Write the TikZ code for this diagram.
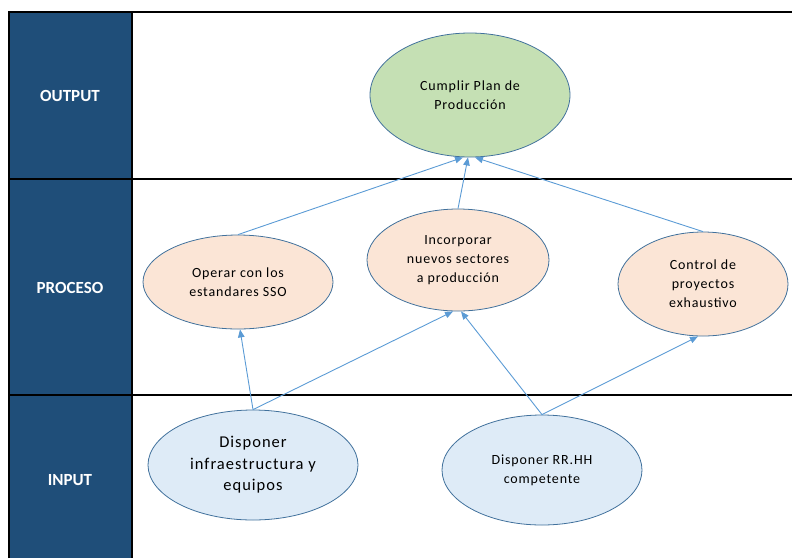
\documentclass[tikz,border=0pt]{standalone}
\usepackage{fontspec}
\setmainfont{Carlito}
\newfontfamily\ovalfont[LetterSpace=6]{Carlito}
\usetikzlibrary{
  arrows.meta,
  positioning,
  shapes.geometric
}
\definecolor{bandblue}{RGB}{31,78,121}
\definecolor{rimblue}{RGB}{65,113,156}
\definecolor{linkblue}{RGB}{91,155,213}
\definecolor{goalgreen}{RGB}{197,224,180}
\definecolor{procpeach}{RGB}{251,229,214}
\definecolor{inpale}{RGB}{222,235,247}

\begin{document}
\begin{tikzpicture}[
            x=1pt, y=-1pt,
            band/.style={text=white, font=\fontsize{17}{20}\selectfont\bfseries},
            oval/.style={ellipse, draw=rimblue, line width=0.8pt, inner sep=0pt, align=center, font=\ovalfont\fontsize{14}{19}\selectfont},
            link/.style={draw=linkblue, line width=0.9pt, -{Triangle[length=8pt,width=6.5pt]}}
        ]
            \useasboundingbox (0,0) rectangle (792,558);
            % left band
            \fill[bandblue] (9,12) rectangle (132,558);
            % table lines
            \draw[line width=2.6pt] (9,558) -- (9,12) -- (792,12);
            \draw[line width=2.6pt] (132,12) -- (132,558);
            \draw[line width=2.6pt] (9,179) -- (792,179);
            \draw[line width=2.6pt] (9,395) -- (792,395);
            % band labels
            \node[band] (lout) at (70,96) {OUTPUT};
            \node[band] (lproc) at (70,288) {PROCESO};
            \node[band] (lin) at (70,480) {INPUT};
            % Output
            \node[oval, fill=goalgreen, minimum width=200pt, minimum height=124pt] (plan) at (470,95) {
                Cumplir Plan de\\Producción
            };
            % Proceso
            \node[oval, fill=procpeach, minimum width=190pt, minimum height=94pt] (operar) at (238,282) {
                Operar con los\\estandares SSO
            };
            \node[oval, fill=procpeach, minimum width=182pt, minimum height=102pt] (incorp) at (458,260) {
                Incorporar\\nuevos sectores\\a producción
            };
            \node[oval, fill=procpeach, minimum width=170pt, minimum height=104pt] (control) at (703,284) {
                Control de\\proyectos\\exhaustivo
            };
            % Input
            \node[oval, fill=inpale, minimum width=210pt, minimum height=110pt, font=\ovalfont\fontsize{16.5}{21.5}\selectfont] (infra) at (253,465) {
                Disponer\\infraestructura y\\equipos
            };
            \node[oval, fill=inpale, minimum width=200pt, minimum height=110pt] (rrhh) at (542,470) {
                Disponer RR.HH\\competente
            };
            % links
            \draw[link] (operar.north) -- ([xshift=-7pt]plan.south);
            \draw[link] (incorp.north) -- ([xshift=-2pt]plan.south);
            \draw[link] (control.north) -- ([xshift=5pt]plan.south);
            \draw[link] (infra.north) -- ([xshift=2pt]operar.south);
            \draw[link] (infra.north) -- ([xshift=-5pt]incorp.south);
            \draw[link] (rrhh.north) -- ([xshift=3pt]incorp.south);
            \draw[link] (rrhh.north) -- ([xshift=-5pt]control.south);
        \end{tikzpicture}
\end{document}
